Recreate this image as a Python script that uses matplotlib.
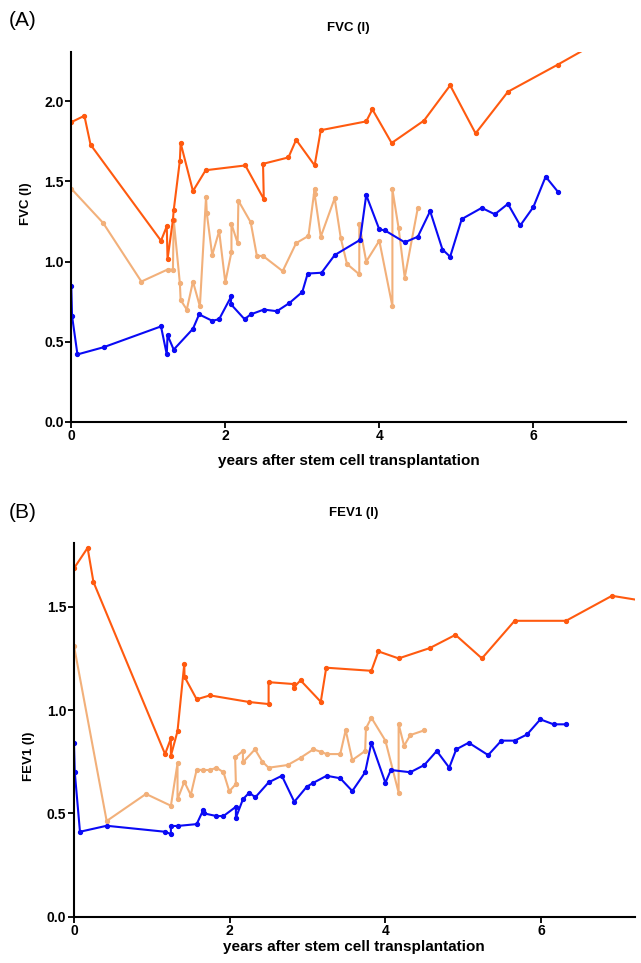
import matplotlib.pyplot as plt

plt.rcParams['font.family'] = ['Liberation Sans', 'DejaVu Sans']

# FVC (l) - panel A
fvc_p1_x = [0, 0.17, 0.25, 1.165, 1.24, 1.25, 1.32, 1.33, 1.41, 1.42, 1.58, 1.745, 2.26, 2.50, 2.49,
            2.82, 2.92, 3.16, 3.24, 3.83, 3.91, 4.16, 4.58, 4.92, 5.25, 5.67, 6.32, 6.91, 7.45]
fvc_p1_y = [1.87, 1.91, 1.73, 1.13, 1.22, 1.015, 1.26, 1.32, 1.63, 1.74, 1.44, 1.57, 1.60, 1.39, 1.61,
            1.65, 1.76, 1.60, 1.82, 1.875, 1.95, 1.74, 1.88, 2.10, 1.80, 2.06, 2.23, 2.39, 2.54]

fvc_p2_x = [0, 0.415, 0.91, 1.25, 1.32, 1.33, 1.41, 1.42, 1.50, 1.58, 1.67, 1.75, 1.76, 1.83, 1.92,
            2.0, 2.08, 2.08, 2.16, 2.17, 2.33, 2.41, 2.49, 2.745, 2.92, 3.08, 3.16, 3.16, 3.24,
            3.42, 3.50, 3.58, 3.74, 3.74, 3.83, 4.0, 4.17, 4.17, 4.25, 4.33, 4.50]
fvc_p2_y = [1.455, 1.24, 0.875, 0.95, 0.95, 1.26, 0.865, 0.76, 0.70, 0.875, 0.72, 1.405, 1.30, 1.04, 1.19,
            0.87, 1.06, 1.235, 1.115, 1.38, 1.245, 1.035, 1.035, 0.94, 1.115, 1.16, 1.455, 1.42, 1.155,
            1.395, 1.145, 0.985, 0.92, 1.235, 1.00, 1.13, 0.72, 1.45, 1.21, 0.90, 1.335]

fvc_p3_x = [0, 0.01, 0.08, 0.42, 1.165, 1.24, 1.25, 1.33, 1.58, 1.66, 1.83, 1.92, 2.08, 2.07, 2.25,
            2.33, 2.50, 2.67, 2.83, 3.00, 3.07, 3.25, 3.42, 3.75, 3.83, 4.0, 4.07, 4.33, 4.50,
            4.66, 4.82, 4.92, 5.07, 5.33, 5.50, 5.67, 5.83, 6.0, 6.16, 6.32]
fvc_p3_y = [0.845, 0.66, 0.42, 0.465, 0.595, 0.42, 0.54, 0.45, 0.58, 0.67, 0.63, 0.64, 0.785, 0.735, 0.64,
            0.67, 0.70, 0.69, 0.74, 0.81, 0.925, 0.93, 1.04, 1.135, 1.415, 1.20, 1.195, 1.12, 1.155,
            1.315, 1.075, 1.03, 1.265, 1.335, 1.295, 1.36, 1.225, 1.34, 1.53, 1.435]

# FEV1 (l) - panel B
fev_p1_x = [0, 0.175, 0.25, 1.17, 1.245, 1.245, 1.33, 1.417, 1.42, 1.576, 1.747, 2.25, 2.50, 2.50,
            2.82, 2.82, 2.91, 3.17, 3.24, 3.82, 3.91, 4.17, 4.57, 4.90, 5.24, 5.66, 6.32, 6.91, 7.45]
fev_p1_y = [1.686, 1.785, 1.62, 0.787, 0.863, 0.779, 0.898, 1.224, 1.161, 1.052, 1.071, 1.039, 1.029, 1.135,
            1.126, 1.108, 1.144, 1.04, 1.205, 1.19, 1.284, 1.25, 1.30, 1.364, 1.25, 1.432, 1.432, 1.553, 1.52]

fev_p2_x = [0, 0.42, 0.925, 1.245, 1.33, 1.33, 1.417, 1.50, 1.576, 1.66, 1.747, 1.83, 1.92, 1.995,
            2.08, 2.07, 2.17, 2.17, 2.325, 2.42, 2.50, 2.745, 2.91, 3.075, 3.17, 3.245, 3.42, 3.49,
            3.575, 3.74, 3.75, 3.82, 4.0, 4.17, 4.17, 4.24, 4.32, 4.50]
fev_p2_y = [1.311, 0.463, 0.594, 0.537, 0.742, 0.568, 0.653, 0.589, 0.711, 0.71, 0.71, 0.721, 0.699, 0.607,
            0.642, 0.771, 0.802, 0.747, 0.81, 0.75, 0.721, 0.734, 0.769, 0.81, 0.798, 0.787, 0.787, 0.903,
            0.758, 0.802, 0.911, 0.963, 0.852, 0.60, 0.932, 0.827, 0.879, 0.902]

fev_p3_x = [0, 0.01, 0.077, 0.42, 1.17, 1.245, 1.245, 1.33, 1.576, 1.66, 1.67, 1.83, 1.92, 2.08, 2.08,
            2.17, 2.25, 2.33, 2.50, 2.67, 2.83, 2.99, 3.075, 3.245, 3.42, 3.575, 3.74, 3.82, 4.0,
            4.07, 4.32, 4.50, 4.66, 4.82, 4.91, 5.07, 5.32, 5.49, 5.66, 5.82, 5.99, 6.16, 6.32]
fev_p3_y = [0.839, 0.70, 0.411, 0.44, 0.411, 0.40, 0.439, 0.439, 0.448, 0.516, 0.50, 0.487, 0.487, 0.532, 0.479,
            0.568, 0.60, 0.578, 0.65, 0.682, 0.556, 0.629, 0.648, 0.682, 0.67, 0.608, 0.699, 0.842, 0.648,
            0.71, 0.699, 0.734, 0.802, 0.721, 0.81, 0.842, 0.782, 0.852, 0.852, 0.882, 0.955, 0.931, 0.931]

c_red = '#FF5A0F'
c_sand = '#F2B07A'
c_blue = '#0A0AF5'

fig = plt.figure(figsize=(6.41, 9.63), dpi=100)
ax1 = fig.add_axes([0.1112, 0.5621, 0.865, 0.3842])
ax2 = fig.add_axes([0.1154, 0.0481, 0.8745, 0.3877])


def style_axis(ax, ylabel, ymax, yticks, xlabelpad, ylabel_y):
    ax.set_xlim(0, 7.2)
    ax.set_ylim(0, ymax)
    ax.set_xticks([0, 2, 4, 6])
    ax.set_yticks(yticks)
    ax.set_yticklabels(['%.1f' % t for t in yticks])
    ax.spines['top'].set_visible(False)
    ax.spines['right'].set_visible(False)
    ax.spines['left'].set_linewidth(1.5)
    ax.spines['bottom'].set_linewidth(1.5)
    ax.tick_params(width=1.3, length=4, labelsize=10, pad=1.5)
    for lab in ax.get_xticklabels() + ax.get_yticklabels():
        lab.set_fontweight('bold')
    ax.set_ylabel(ylabel, fontsize=9.5, fontweight='bold')
    ax.yaxis.set_label_coords(-0.07, ylabel_y)
    ax.set_xlabel('years after stem cell transplantation', fontsize=11, fontweight='bold', labelpad=xlabelpad)


for ax, xs, ys in [(ax1, [fvc_p2_x, fvc_p1_x, fvc_p3_x], [fvc_p2_y, fvc_p1_y, fvc_p3_y]),
                   (ax2, [fev_p2_x, fev_p1_x, fev_p3_x], [fev_p2_y, fev_p1_y, fev_p3_y])]:
    for x, y, c in zip(xs, ys, [c_sand, c_red, c_blue]):
        ax.plot(x, y, marker='o', markersize=2.8, linewidth=1.5, color=c, clip_on=True)

style_axis(ax1, 'FVC (l)', 2.31, [0.0, 0.5, 1.0, 1.5, 2.0], 8, 0.59)
style_axis(ax2, 'FEV1 (l)', 1.807, [0.0, 0.5, 1.0, 1.5], 1, 0.43)

# titles and panel letters
fig.text(348.5 / 641, 1 - 28 / 963, 'FVC (l)', fontsize=9.5, fontweight='bold', ha='center', va='center')
fig.text(354 / 641, 1 - 513 / 963, 'FEV1 (l)', fontsize=9.5, fontweight='bold', ha='center', va='center')
fig.text(0.014, 1 - 20 / 963, '(A)', fontsize=15, va='center', ha='left')
fig.text(0.014, 1 - 512 / 963, '(B)', fontsize=15, va='center', ha='left')

plt.savefig('out.png', dpi=100)
